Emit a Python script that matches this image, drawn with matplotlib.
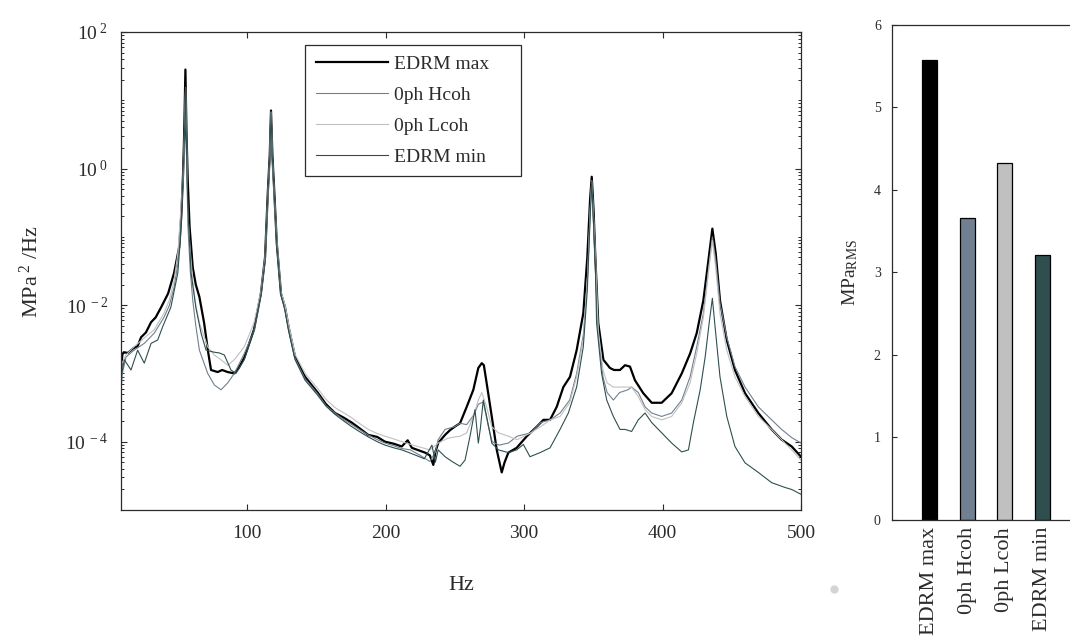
import matplotlib
matplotlib.use("Agg")
import matplotlib.pyplot as plt
from matplotlib.ticker import FixedLocator, FuncFormatter, LogLocator, NullFormatter, NullLocator
from matplotlib.lines import Line2D
import numpy as np

# ---- spectral densities: (frequency in Hz, log10 of PSD in MPa^2/Hz) ----
edrm_max = [
    (9, -2.95), (10, -2.72), (11, -2.69), (14, -2.70), (18, -2.63), (21, -2.60), (23.5, -2.47),
    (27, -2.40), (30.7, -2.25), (34, -2.18), (38, -2.03), (43, -1.83), (47.3, -1.53), (51, -1.15),
    (52.5, -0.70), (53.8, -0.08), (54.6, 0.50), (55.5, 1.45), (56.3, 0.50), (57.2, -0.18),
    (58.5, -0.85), (60.8, -1.45), (63, -1.70), (65.6, -1.88), (69, -2.26), (72, -2.70),
    (74, -2.95), (78.8, -2.98), (82, -2.95), (86, -2.98), (90.8, -3.00), (94, -2.92), (98, -2.77),
    (105, -2.36), (110, -1.83), (113, -1.30), (115, -0.35), (116.4, 0.20), (117.3, 0.85),
    (118.3, 0.20), (119.7, -0.35), (121.5, -1.10), (124.5, -1.83), (127.4, -2.03), (130, -2.32),
    (134.7, -2.76), (141.9, -3.05), (151, -3.28), (157, -3.45), (163.5, -3.58), (170, -3.65),
    (175.6, -3.72), (181, -3.80), (187.5, -3.90), (194, -3.93), (199.6, -4.00), (206, -4.03),
    (211.7, -4.07), (216, -3.98), (219, -4.09), (228.5, -4.16), (232, -4.20), (234.5, -4.34),
    (236, -4.15), (238, -4.02), (243, -3.90), (246.6, -3.83), (250, -3.78), (253.8, -3.73),
    (258.6, -3.49), (263.4, -3.24), (267, -2.92), (269.5, -2.85), (271, -2.88), (273, -3.14),
    (276.7, -3.63), (280.3, -4.12), (283.9, -4.45), (286, -4.30), (288.7, -4.16), (294.7, -4.09),
    (302, -3.92), (309.2, -3.78), (314, -3.68), (318.8, -3.68), (323.6, -3.49), (328.4, -3.20),
    (333.2, -3.05), (338, -2.66), (342.8, -2.12), (345.7, -1.30), (347.7, -0.45), (348.9, -0.12),
    (350.2, -0.60), (351.5, -1.30), (353.6, -2.26), (357.3, -2.80), (362, -2.92), (365, -2.95),
    (369.3, -2.95), (372.9, -2.88), (376.5, -2.90), (380.1, -3.10), (386.1, -3.29), (392.2, -3.43),
    (399.4, -3.43), (406.6, -3.29), (413.9, -3.00), (419.9, -2.71), (424.7, -2.41), (429.5, -1.93),
    (433.1, -1.35), (436, -0.88), (438.4, -1.24), (441.5, -1.93), (446.4, -2.51), (452.3, -2.95),
    (459.6, -3.29), (469.2, -3.58), (478.8, -3.82), (486, -3.97), (493.3, -4.07), (500, -4.22),
]

ph0_hcoh = [
    (9, -3.28), (10, -3.00), (12.6, -2.76), (18.4, -2.66), (25.8, -2.56), (33, -2.41), (40, -2.18),
    (44, -2.00), (47.3, -1.74), (50, -1.40), (52, -0.86), (53.8, -0.20), (54.7, 0.40), (55.6, 1.18),
    (56.4, 0.30), (57.2, -0.80), (59, -1.50), (60.8, -1.93), (63, -2.30), (65.6, -2.66),
    (71.6, -3.00), (76.4, -3.17), (81.2, -3.24), (86, -3.14), (90.8, -3.00), (98, -2.71),
    (105, -2.38), (110, -1.85), (113, -1.35), (115, -0.40), (116.4, 0.15), (117.3, 0.82),
    (118.3, 0.15), (119.7, -0.40), (121.5, -1.10), (124.5, -1.85), (127.4, -2.05), (130, -2.35),
    (134.7, -2.78), (141.9, -3.08), (151, -3.30), (157, -3.47), (163.5, -3.58), (170, -3.68),
    (175.6, -3.75), (181, -3.82), (187.5, -3.90), (194, -3.97), (199.6, -4.02), (206, -4.06),
    (211.7, -4.10), (218, -4.12), (225, -4.20), (232, -4.29), (236, -4.15), (238, -3.97),
    (243, -3.82), (250, -3.78), (253.8, -3.73), (258.6, -3.75), (264, -3.60), (267, -3.45),
    (270.6, -3.42), (274, -3.75), (277, -4.00), (282, -4.05), (288.7, -4.02), (295, -3.92),
    (305, -3.87), (312, -3.72), (319, -3.68), (326, -3.58), (333, -3.39), (338, -3.00),
    (343, -2.41), (346, -1.53), (347.8, -0.60), (348.9, -0.18), (350.2, -0.70), (351.5, -1.30),
    (353.6, -2.41), (357, -3.05), (360, -3.28), (364.5, -3.39), (369, -3.28), (375, -3.24),
    (377.7, -3.20), (382.5, -3.28), (387.4, -3.49), (392.2, -3.58), (399.4, -3.63), (406.6, -3.58),
    (413.9, -3.39), (419.9, -3.05), (424.7, -2.61), (429.5, -2.12), (433.1, -1.49), (436, -1.00),
    (438.4, -1.34), (441.5, -1.97), (446.4, -2.47), (452.3, -2.90), (459.6, -3.20), (469.2, -3.49),
    (478.8, -3.68), (486, -3.82), (493.3, -3.94), (500, -4.02),
]

ph0_lcoh = [
    (9, -2.88), (12.6, -2.73), (18.4, -2.61), (25.8, -2.48), (33, -2.36), (40, -2.12), (44, -1.92),
    (47.3, -1.64), (50, -1.25), (52, -0.66), (53.8, -0.10), (54.7, 0.45), (55.6, 1.18), (56.4, 0.35),
    (57.2, -0.66), (59, -1.20), (60.8, -1.64), (63, -2.00), (65.6, -2.26), (71.6, -2.61),
    (76.4, -2.73), (81.2, -2.80), (86, -2.88), (90.8, -2.80), (98, -2.61), (105, -2.26),
    (110, -1.80), (113, -1.30), (115, -0.40), (116.4, 0.15), (117.3, 0.83), (118.3, 0.15),
    (119.7, -0.40), (121.5, -1.05), (124.5, -1.80), (127.4, -2.00), (130, -2.28), (134.7, -2.72),
    (141.9, -3.00), (151, -3.22), (157, -3.38), (163.5, -3.50), (170, -3.58), (175.6, -3.65),
    (181, -3.73), (187.5, -3.82), (194, -3.88), (199.6, -3.92), (206, -3.96), (211.7, -4.00),
    (218, -4.04), (225, -4.08), (232, -4.12), (238, -4.02), (245, -3.95), (250, -3.93),
    (253.8, -3.92), (258.6, -3.87), (263.4, -3.63), (267, -3.39), (269.5, -3.28), (273, -3.49),
    (276.7, -3.78), (281.5, -3.87), (288.7, -3.92), (295, -3.97), (305, -3.87), (312, -3.78),
    (319, -3.68), (326, -3.63), (333, -3.43), (338, -3.05), (343, -2.47), (346, -1.53),
    (347.8, -0.60), (348.9, -0.18), (350.2, -0.70), (351.5, -1.27), (353.6, -2.36), (357, -2.95),
    (360, -3.14), (364.5, -3.20), (369, -3.20), (375, -3.20), (377.7, -3.20), (382.5, -3.34),
    (387.4, -3.53), (392.2, -3.63), (399.4, -3.68), (406.6, -3.63), (413.9, -3.43), (419.9, -3.14),
    (424.7, -2.71), (429.5, -2.18), (433.1, -1.53), (436, -1.05), (438.4, -1.45), (441.5, -2.12),
    (446.4, -2.66), (452.3, -3.05), (459.6, -3.34), (469.2, -3.63), (478.8, -3.82), (486, -3.97),
    (493.3, -4.12), (500, -4.27),
]

edrm_min = [
    (9, -3.05), (11.4, -2.80), (16.2, -2.95), (21, -2.66), (25.8, -2.85), (30.7, -2.56),
    (35.5, -2.51), (39, -2.32), (45, -2.03), (50, -1.53), (52, -1.00), (53.6, -0.18), (54.7, 0.40),
    (55.6, 1.18), (56.4, 0.20), (57.2, -0.57), (59.6, -1.53), (63, -2.03), (66.8, -2.41),
    (70.4, -2.66), (76.4, -2.69), (80, -2.70), (83.6, -2.73), (88.4, -2.95), (92, -3.00),
    (98, -2.80), (105, -2.36), (110, -1.85), (113, -1.35), (115, -0.40), (116.4, 0.15),
    (117.3, 0.82), (118.3, 0.15), (119.7, -0.40), (121.5, -1.10), (124.5, -1.85), (127.4, -2.08),
    (130, -2.38), (134.7, -2.80), (141.9, -3.10), (151, -3.32), (157, -3.48), (163.5, -3.60),
    (170, -3.70), (175.6, -3.78), (181, -3.85), (187.5, -3.93), (194, -4.00), (199.6, -4.05),
    (206, -4.09), (211.7, -4.12), (217, -4.16), (222, -4.20), (228, -4.25), (233.5, -4.05),
    (236, -4.30), (238, -4.12), (243, -4.22), (248, -4.29), (253.8, -4.36), (257.4, -4.27),
    (261, -3.92), (264.6, -3.53), (267, -4.02), (268.5, -3.80), (270.6, -3.39), (273, -3.63),
    (276.7, -4.02), (281.5, -4.12), (288.7, -4.16), (294.7, -4.12), (299.5, -4.04), (304.3, -4.22),
    (311.6, -4.16), (318.8, -4.09), (326, -3.82), (332, -3.58), (338, -3.20), (342.8, -2.61),
    (345.7, -1.78), (347.8, -0.70), (348.9, -0.18), (350.2, -0.80), (351.5, -1.40), (352.4, -2.26),
    (356, -3.00), (359.7, -3.39), (364.5, -3.63), (369.3, -3.82), (372.9, -3.82), (377.7, -3.85),
    (382.5, -3.68), (387.4, -3.58), (392.2, -3.72), (399.4, -3.87), (406.6, -4.02), (413.9, -4.15),
    (418.7, -4.12), (422.3, -3.72), (427.2, -3.24), (430.8, -2.76), (433.7, -2.26), (436, -1.90),
    (438.4, -2.41), (441.5, -3.05), (446.4, -3.63), (452.3, -4.07), (459.6, -4.31), (469.2, -4.45),
    (478.8, -4.60), (488.4, -4.67), (493.3, -4.70), (500, -4.77),
]

# ---- RMS stress per case ----
cases = ["EDRM max", "0ph Hcoh", "0ph Lcoh", "EDRM min"]
rms_mpa = [5.58, 3.66, 4.33, 3.21]

colors = ["#000000", "#708090", "#c0c0c0", "#2f4f4f"]
line_widths = [1.6, 0.8, 0.8, 0.8]
spectra = [edrm_max, ph0_hcoh, ph0_lcoh, edrm_min]

plt.rcParams["font.family"] = ["Liberation Serif", "DejaVu Serif"]
plt.rcParams["mathtext.fontset"] = "custom"
plt.rcParams["mathtext.rm"] = "Liberation Serif"
plt.rcParams["mathtext.it"] = "Liberation Serif:italic"
plt.rcParams["mathtext.bf"] = "Liberation Serif:bold"

ink = "#2b2b2b"

fig = plt.figure(figsize=(10.7, 6.41), dpi=100)

# ---- PSD panel ----
ax = fig.add_axes([0.1131, 0.2044, 0.6355, 0.7457])
for name, data, c, lw in zip(cases, spectra, colors, line_widths):
    f = np.array([p[0] for p in data])
    psd = 10.0 ** np.array([p[1] for p in data])
    ax.plot(f, psd, color=c, lw=lw, label=name)

ax.set_yscale("log")
ax.set_xlim(9, 500)
ax.set_ylim(1e-5, 1e2)
ax.xaxis.set_major_locator(FixedLocator([100, 200, 300, 400, 500]))
ax.xaxis.set_minor_locator(NullLocator())
ax.yaxis.set_major_locator(FixedLocator([1e-4, 1e-2, 1e0, 1e2]))
ax.yaxis.set_major_formatter(
    FuncFormatter(lambda v, pos: r"$\mathregular{10^{\ %d}}$" % int(round(np.log10(v))))
)
ax.yaxis.set_minor_locator(LogLocator(base=10, subs=np.arange(1, 10), numticks=30))
ax.yaxis.set_minor_formatter(NullFormatter())
ax.tick_params(which="both", direction="in", top=True, right=True, colors=ink, labelcolor=ink)
ax.tick_params(which="major", length=4.5, width=0.8, labelsize=14)
ax.tick_params(which="minor", length=2.4, width=0.7)
ax.tick_params(axis="x", pad=11)
ax.tick_params(axis="y", pad=9)
for s in ax.spines.values():
    s.set_color(ink)
    s.set_linewidth(0.9)
ax.set_xlabel("Hz", fontsize=16, color=ink, labelpad=24)
ax.set_ylabel(r"$\mathregular{MPa^{\ 2}\ /Hz}$", fontsize=16, color=ink, labelpad=16)

# legend box spans a fixed width in axes coordinates
leg_w = 0.3176
leg_h = 0.2762
leg = ax.legend(loc="upper left", bbox_to_anchor=(0.2706, 0.9728 - leg_h, leg_w, leg_h),
                mode="expand", borderaxespad=0, fontsize=14, handlelength=3.7,
                handletextpad=0.35, labelspacing=0.68, borderpad=0.55,
                fancybox=False, framealpha=1, edgecolor=ink)
leg.get_frame().set_linewidth(0.9)
for t in leg.get_texts():
    t.set_color(ink)

# ---- RMS bar panel (right border falls outside the canvas) ----
ax2 = fig.add_axes([0.8336, 0.1888, 0.1757, 0.7722])
x = np.arange(1, len(cases) + 1)
ax2.bar(x, rms_mpa, width=0.4, color=colors, edgecolor="#000000", linewidth=0.9)
ax2.set_xlim(0, 5)
ax2.set_ylim(0, 6)
ax2.set_xticks(x)
ax2.set_xticklabels(cases, rotation=90, fontsize=16, color=ink)
ax2.set_yticks(range(0, 7))
ax2.tick_params(axis="x", length=0, pad=5)
ax2.tick_params(axis="y", direction="in", length=3.5, width=0.8, labelsize=10,
                colors=ink, labelcolor=ink, pad=8)
for s in ax2.spines.values():
    s.set_color(ink)
    s.set_linewidth(0.9)
ax2.spines["right"].set_visible(False)
ax2.set_ylabel(r"$\mathregular{MPa_{RMS}}$", fontsize=14, color=ink, labelpad=10)

fig.add_artist(Line2D([0.7794], [0.0811], marker="o", markersize=6, color="#d4d4d4",
                      markeredgewidth=0, transform=fig.transFigure))

fig.savefig("out.png", dpi=100)
